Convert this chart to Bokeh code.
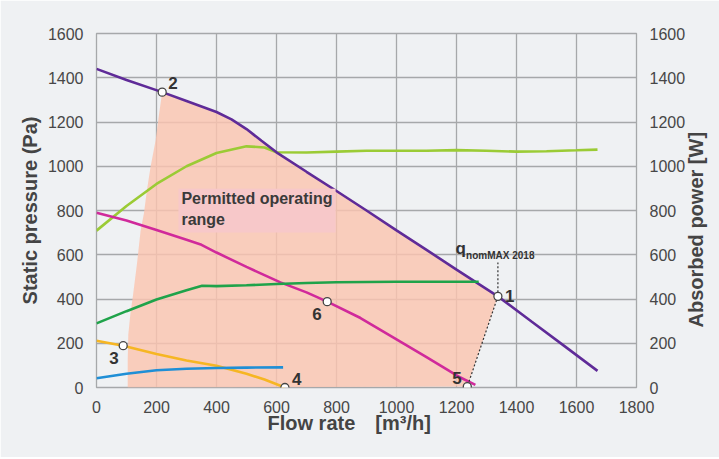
import math
from bokeh.plotting import figure
from bokeh.models import Range1d, LinearAxis, FixedTicker, Label, BoxAnnotation, ColumnDataSource, Title
from bokeh.embed import file_html
from bokeh.resources import INLINE
from bokeh.core.properties import value

# ---------------- data ----------------
flow_ticks = [0, 200, 400, 600, 800, 1000, 1200, 1400, 1600, 1800]
pressure_ticks = [0, 200, 400, 600, 800, 1000, 1200, 1400, 1600]
power_ticks = [0, 200, 400, 600, 800, 1000, 1200, 1400, 1600]

# fan curve (static pressure, Pa) - purple
fan_x = [0, 100, 219, 300, 400, 450, 500, 550, 600, 700, 800, 900, 1000, 1100, 1200, 1338, 1450, 1560, 1670]
fan_y = [1440, 1390, 1335, 1295, 1245, 1212, 1168, 1115, 1063, 975, 888, 800, 710, 622, 533, 412, 298, 187, 75]

# absorbed power at max speed (W) - lime
power_max_x = [0, 100, 200, 300, 400, 500, 560, 600, 700, 800, 900, 1000, 1100, 1200, 1300, 1400, 1500, 1600, 1670]
power_max_y = [709, 820, 920, 1000, 1060, 1090, 1085, 1063, 1062, 1066, 1070, 1070, 1070, 1073, 1070, 1066, 1068, 1072, 1075]

# lower speed pressure curve - magenta
mid_x = [0, 100, 200, 300, 350, 400, 500, 613, 700, 769, 880, 1000, 1100, 1213, 1263]
mid_y = [790, 755, 712, 668, 645, 610, 545, 475, 430, 388, 314, 218, 137, 45, 12]

# absorbed power at lower speed (W) - green
power_mid_x = [0, 100, 200, 300, 352, 400, 500, 600, 700, 800, 1000, 1200, 1274]
power_mid_y = [290, 345, 398, 440, 460, 458, 462, 468, 472, 476, 478, 478, 478]

# min speed pressure curve - yellow
min_x = [0, 89, 200, 300, 400, 500, 560, 628]
min_y = [211, 189, 151, 122, 98, 62, 36, 0]

# absorbed power at min speed (W) - blue
power_min_x = [0, 100, 200, 300, 400, 500, 622]
power_min_y = [42, 62, 78, 85, 88, 90, 91]

# working points 1..6
point_labels = ["1", "2", "3", "4", "5", "6"]
point_x = [1338, 219, 89, 628, 1236, 769]
point_y = [412, 1335, 189, 0, 4, 388]

# left boundary of the permitted operating range (bottom -> point 2)
range_left_x = [104, 104, 106, 113, 122, 135, 147, 158, 168, 180, 197, 208, 219]
range_left_y = [0, 120, 240, 333, 420, 560, 709, 786, 890, 995, 1116, 1230, 1335]

qnom_top = 565

# ---------------- styling ----------------
BG = "#eff1f3"
GRID = "#a6a8aa"
TXT = "#474747"
FONT = "Liberation Sans"

label_offsets = {"1": (7, 0), "2": (6, -9), "3": (-14, 12), "4": (7, -9), "5": (-15, -9), "6": (-15, 12)}

p = figure(frame_width=540, frame_height=354,
           min_border_left=96, min_border_right=81, min_border_top=33, min_border_bottom=70,
           x_range=Range1d(0, 1800), y_range=Range1d(0, 1600),
           output_backend="svg", toolbar_location=None)
p.extra_y_ranges = {"power": Range1d(0, 1600)}

p.background_fill_color = BG
p.border_fill_color = BG
p.outline_line_color = GRID
p.outline_line_width = 1.3

# permitted operating range polygon: left edge, fan curve 2->1, dashed line 1->5
i1 = point_labels.index("1")
i5 = point_labels.index("5")
poly_x = list(range_left_x)
poly_y = list(range_left_y)
for fx, fy in zip(fan_x, fan_y):
    if range_left_x[-1] < fx < point_x[i1]:
        poly_x.append(fx)
        poly_y.append(fy)
poly_x += [point_x[i1], point_x[i5]]
poly_y += [point_y[i1], point_y[i5]]
p.patch(poly_x, poly_y, fill_color="#fbc4b0", fill_alpha=0.82, line_color=None)

# pink label box
p.add_layout(BoxAnnotation(left=273, right=797, bottom=701, top=898,
                           fill_color="#f7c8c9", fill_alpha=1.0, line_color=None))
p.add_layout(Label(x=283, y=852, text="Permitted operating", text_font=FONT,
                   text_font_size="16px", text_font_style="bold", text_color="#3a3a3a",
                   text_baseline="middle"))
p.add_layout(Label(x=283, y=758, text="range", text_font=FONT,
                   text_font_size="16px", text_font_style="bold", text_color="#3a3a3a",
                   text_baseline="middle"))

# curves
lw = 2.6
p.line(power_max_x, power_max_y, line_color="#9bcb35", line_width=lw, y_range_name="power")
p.line(fan_x, fan_y, line_color="#5f2b98", line_width=lw)
p.line(mid_x, mid_y, line_color="#d02a9b", line_width=lw)
p.line(power_mid_x, power_mid_y, line_color="#1fa34a", line_width=lw, y_range_name="power")
p.line(min_x, min_y, line_color="#f6b623", line_width=lw)
p.line(power_min_x, power_min_y, line_color="#1f8fd6", line_width=lw, y_range_name="power")

# dashed lines
p.line([point_x[i1], point_x[i5]], [point_y[i1], point_y[i5]], line_color="#333333",
       line_width=1.2, line_dash="2 2")
p.line([point_x[i1], point_x[i1]], [point_y[i1], qnom_top], line_color="#333333",
       line_width=1.2, line_dash="2 2")

# points
src = ColumnDataSource(dict(x=point_x, y=point_y, t=point_labels,
                            dx=[label_offsets[l][0] for l in point_labels],
                            dy=[label_offsets[l][1] for l in point_labels]))
p.scatter("x", "y", source=src, size=8, fill_color="white", line_color="#454545", line_width=1.3)
p.text("x", "y", text="t", source=src, x_offset="dx", y_offset="dy",
       text_font=value(FONT), text_font_size="17px", text_font_style="bold",
       text_color="#333333", text_baseline="middle", text_align="left")

# q nomMAX label
p.add_layout(Label(x=1197, y=630, text="q", text_font=FONT, text_font_size="17px",
                   text_font_style="bold", text_color="#333333", text_baseline="middle"))
p.add_layout(Label(x=1232, y=598, text="nomMAX 2018", text_font=FONT, text_font_size="10px",
                   text_font_style="bold", text_color="#333333", text_baseline="middle"))

# axes
for ax in [p.xaxis[0], p.yaxis[0]]:
    ax.major_tick_line_color = None
    ax.minor_tick_line_color = None
    ax.axis_line_color = None
    ax.major_label_text_font = FONT
    ax.major_label_text_font_size = "16px"
    ax.major_label_text_color = TXT
    ax.axis_label_text_font = FONT
    ax.axis_label_text_font_size = "20px"
    ax.axis_label_text_font_style = "bold"
    ax.axis_label_text_color = "#444444"

p.xaxis.ticker = FixedTicker(ticks=flow_ticks)
p.yaxis.ticker = FixedTicker(ticks=pressure_ticks)
p.xaxis.major_label_standoff = 7
p.yaxis.major_label_standoff = 7
p.yaxis.axis_label = "Static pressure (Pa)"
p.yaxis.axis_label_standoff = 4

right = LinearAxis(y_range_name="power", ticker=FixedTicker(ticks=power_ticks),
                   axis_label="\u2003\u2003\u2003Absorbed power [W]")
right.major_tick_line_color = None
right.minor_tick_line_color = None
right.axis_line_color = None
right.major_label_text_font = FONT
right.major_label_text_font_size = "16px"
right.major_label_text_color = TXT
right.major_label_standoff = 7
right.axis_label_text_font = FONT
right.axis_label_text_font_size = "20px"
right.axis_label_text_font_style = "bold"
right.axis_label_text_color = "#444444"
right.axis_label_standoff = 8
right.axis_label_orientation = math.pi / 2
right.axis_label_align = "start"
p.add_layout(right, "right")

p.xgrid.ticker = FixedTicker(ticks=flow_ticks)
p.ygrid.ticker = FixedTicker(ticks=pressure_ticks)
p.grid.grid_line_color = GRID
p.grid.grid_line_width = 1.3

# x axis title
p.add_layout(Title(text="Flow rate\u2003[m³/h]", align="left", offset=171, standoff=-12,
                   text_font=FONT, text_font_size="20px", text_font_style="bold",
                   text_color="#444444"), "below")

open("out.html", "w").write(file_html(p, INLINE))
